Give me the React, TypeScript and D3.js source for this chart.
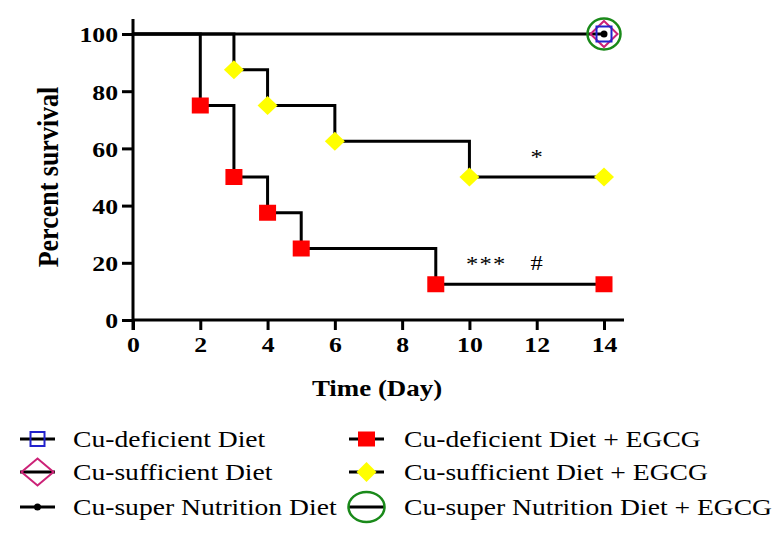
import React, { useEffect, useRef } from 'react';
import * as d3 from 'd3';

// survival data (percent) per group
const controlDays = [0, 14];
const controlSurvival = [100, 100];
const defEgcgDays = [0, 2, 3, 4, 5, 9, 14];
const defEgcgSurvival = [100, 75, 50, 37.5, 25, 12.5, 12.5];
const sufEgcgDays = [0, 3, 4, 6, 10, 14];
const sufEgcgSurvival = [100, 87.5, 75, 62.5, 50, 50];

const xTicks = [0, 2, 4, 6, 8, 10, 12, 14];
const yTicks = [0, 20, 40, 60, 80, 100];

const legendLabels = [
  'Cu-deficient Diet',
  'Cu-sufficient Diet',
  'Cu-super Nutrition Diet',
  'Cu-deficient Diet + EGCG',
  'Cu-sufficient Diet + EGCG',
  'Cu-super Nutrition Diet + EGCG',
];
const legendSymbols = ['square-open', 'diamond-open', 'dot', 'square', 'diamond', 'circle'];

// significance marks: [day, percent (baseline), text]
const annotations: [number, number, string][] = [
  [12, 54.5, '*'],
  [10.5, 17, '***'],
  [12, 17.5, '#'],
];

const W = 783;
const H = 535;
const FONT = '"Liberation Serif", "Times New Roman", serif';
const SX = 1.17; // the original text is a bit wider than Times

const App = () => {
  const ref = useRef<SVGSVGElement>(null);

  useEffect(() => {
    const svg = d3.select(ref.current);
    svg.selectAll('*').remove();

    const x = d3.scaleLinear().domain([0, 14]).range([133, 604]);
    const y = d3.scaleLinear().domain([0, 100]).range([320, 34]);

    const chart = svg.append('g');

    const addText = (g: any, tx: number, ty: number, str: string, size: number, bold = false, anchor = 'start', sx = SX) =>
      g.append('text')
        .attr('transform', `translate(${tx},${ty}) scale(${sx},1)`)
        .attr('text-anchor', anchor)
        .style('font-family', FONT)
        .style('font-size', `${size}px`)
        .style('font-weight', bold ? 'bold' : 'normal')
        .attr('fill', '#000')
        .text(str);

    // axes
    const yAxis = chart.append('g')
      .attr('transform', `translate(${x(0)},0)`)
      .call(d3.axisLeft(y).tickValues(yTicks).tickSize(11).tickPadding(4).tickSizeOuter(0));
    yAxis.select('.domain').remove();

    const xAxis = chart.append('g')
      .attr('transform', `translate(0,${y(0)})`)
      .call(d3.axisBottom(x).tickValues(xTicks).tickSize(10).tickPadding(6).tickSizeOuter(0));
    xAxis.select('.domain').remove();

    chart.append('line')
      .attr('x1', x(0)).attr('x2', x(0))
      .attr('y1', 19).attr('y2', y(0) + 10)
      .attr('stroke', '#000').attr('stroke-width', 3);
    chart.append('line')
      .attr('x1', x(0) - 1).attr('x2', 624)
      .attr('y1', y(0)).attr('y2', y(0))
      .attr('stroke', '#000').attr('stroke-width', 3);

    [yAxis, xAxis].forEach((a) => {
      a.selectAll('line').attr('stroke', '#000').attr('stroke-width', 3);
      a.selectAll('text')
        .style('font-family', FONT)
        .style('font-weight', 'bold')
        .style('font-size', '22px')
        .attr('fill', '#000')
        .attr('transform', `scale(${SX},1)`);
    });
    yAxis.selectAll('text').attr('x', -15 / SX).attr('dy', '0.36em');
    xAxis.selectAll('text').attr('dy', '0.75em');

    // axis titles
    chart.append('text')
      .attr('transform', `translate(58,${(y(0) + y(100)) / 2}) rotate(-90) scale(1,${SX})`)
      .attr('text-anchor', 'middle')
      .style('font-family', FONT).style('font-weight', 'bold').style('font-size', '26px')
      .text('Percent survival');
    addText(chart, 377, 396, 'Time (Day)', 23, true, 'middle');

    // step lines
    const step = d3.line<[number, number]>()
      .x((d) => x(d[0]))
      .y((d) => y(d[1]))
      .curve(d3.curveStepAfter);

    const series = [
      { days: controlDays, surv: controlSurvival },
      { days: defEgcgDays, surv: defEgcgSurvival },
      { days: sufEgcgDays, surv: sufEgcgSurvival },
    ];
    series.forEach((s) => {
      chart.append('path')
        .datum(s.days.map((d, i) => [d, s.surv[i]] as [number, number]))
        .attr('d', step)
        .attr('fill', 'none')
        .attr('stroke', '#000')
        .attr('stroke-width', 3);
    });

    const diamond = (cx: number, cy: number, rx: number, ry: number) =>
      `M${cx},${cy - ry}L${cx + rx},${cy}L${cx},${cy + ry}L${cx - rx},${cy}Z`;

    const drawSymbol = (g: any, kind: string, cx: number, cy: number, legend = false) => {
      if (kind === 'square') {
        const h = legend ? 15 : 16;
        g.append('rect').attr('x', cx - 8.5).attr('y', cy - h / 2).attr('width', 17).attr('height', h)
          .attr('fill', '#ff0000');
      } else if (kind === 'diamond') {
        g.append('path').attr('d', diamond(cx, cy, 10, legend ? 10 : 9.5)).attr('fill', '#ffff00');
      } else if (kind === 'square-open') {
        const s = legend ? 14 : 15;
        g.append('rect').attr('x', cx - s / 2).attr('y', cy - s / 2).attr('width', s).attr('height', s)
          .attr('fill', 'none').attr('stroke', '#2222cc').attr('stroke-width', 2);
      } else if (kind === 'diamond-open') {
        g.append('path').attr('d', legend ? diamond(cx, cy, 16, 13.5) : diamond(cx, cy, 13.5, 13))
          .attr('fill', 'none').attr('stroke', '#cc2277').attr('stroke-width', 2);
      } else if (kind === 'dot') {
        g.append('circle').attr('cx', cx).attr('cy', cy).attr('r', 3.5).attr('fill', '#000');
      } else if (kind === 'circle') {
        g.append('ellipse').attr('cx', cx).attr('cy', cy)
          .attr('rx', legend ? 18 : 16.5).attr('ry', legend ? 15 : 15.5)
          .attr('fill', 'none').attr('stroke', '#1a8a1a').attr('stroke-width', 2.5);
      }
    };

    // markers
    defEgcgDays.forEach((d, i) => {
      if (i > 0) drawSymbol(chart, 'square', x(d), y(defEgcgSurvival[i]));
    });
    sufEgcgDays.forEach((d, i) => {
      if (i > 0) drawSymbol(chart, 'diamond', x(d), y(sufEgcgSurvival[i]));
    });
    const last = controlDays.length - 1;
    ['circle', 'diamond-open', 'square-open', 'dot'].forEach((k) =>
      drawSymbol(chart, k, x(controlDays[last]), y(controlSurvival[last])));

    // annotations
    annotations.forEach(([d, p, t]) => {
      addText(chart, x(d), y(p), t, 21, false, 'middle').attr('letter-spacing', t === '***' ? 1 : 0);
    });

    // legend
    const legend = svg.append('g');
    legendLabels.forEach((label, i) => {
      const col = Math.floor(i / 3);
      const row = i % 3;
      const x0 = col === 0 ? 20 : 349;
      const cy = [439, 472, 507][row];
      legend.append('line')
        .attr('x1', x0).attr('x2', x0 + 35)
        .attr('y1', cy).attr('y2', cy)
        .attr('stroke', '#000').attr('stroke-width', 3);
      drawSymbol(legend, legendSymbols[i], x0 + 17.5, cy, true);
      addText(legend, col === 0 ? 73 : 404, cy + 8, label, 23, false, 'start', 1.2);
    });
  }, []);

  return (
    <svg
      ref={ref}
      width={W}
      height={H}
      style={{ position: 'absolute', left: 0, top: 0, background: '#fff' }}
    />
  );
};

export default App;
